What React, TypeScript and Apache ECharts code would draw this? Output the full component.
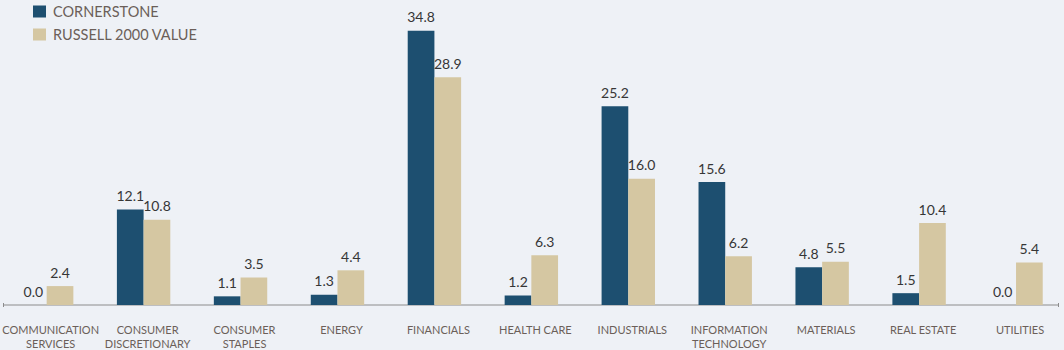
import React, { useEffect, useRef } from "react";
import * as echarts from "echarts";

const categories = [
  "COMMUNICATION\nSERVICES",
  "CONSUMER\nDISCRETIONARY",
  "CONSUMER\nSTAPLES",
  "ENERGY",
  "FINANCIALS",
  "HEALTH CARE",
  "INDUSTRIALS",
  "INFORMATION\nTECHNOLOGY",
  "MATERIALS",
  "REAL ESTATE",
  "UTILITIES",
];
const cornerstone = [0.0, 12.1, 1.1, 1.3, 34.8, 1.2, 25.2, 15.6, 4.8, 1.5, 0.0];
const russell2000Value = [2.4, 10.8, 3.5, 4.4, 28.9, 6.3, 16.0, 6.2, 5.5, 10.4, 5.4];
const seriesNames = ["CORNERSTONE", "RUSSELL 2000 VALUE"];

const BG = "#eef1f6";
const BLUE = "#1d4f70";
const BEIGE = "#d5c7a2";
const TEXT = "#6b5f59";
const FONT = "Lato, 'Noto Sans', sans-serif";

export default function App() {
  const ref = useRef<HTMLDivElement>(null);
  useEffect(() => {
    if (!ref.current) return;
    const chart = echarts.init(ref.current, null, { renderer: "svg" });
    const labelStyle = {
      show: true,
      position: "top" as const,
      distance: 7,
      color: "#363636",
      fontSize: 14,
      fontFamily: FONT,
      formatter: (p: any) => Number(p.value).toFixed(1),
    };
    chart.setOption({
      animation: false,
      backgroundColor: BG,
      textStyle: { fontFamily: FONT },
      legend: {
        orient: "vertical",
        left: 33,
        top: 4,
        padding: 0,
        itemWidth: 13,
        itemHeight: 12,
        itemGap: 8,
        icon: "rect",
        textStyle: { color: TEXT, fontSize: 14.5, fontFamily: FONT, padding: [0, 0, 0, 2] },
        data: seriesNames,
      },
      grid: {
        left: -1.8,
        right: -0.5,
        top: 29.1,
        bottom: 45,
        containLabel: false,
        outerBoundsMode: "none",
      },
      xAxis: {
        type: "category",
        data: categories,
        axisLine: { show: false },
        axisTick: { show: false },
        axisLabel: {
          interval: 0,
          color: TEXT,
          fontSize: 11,
          fontFamily: FONT,
          lineHeight: 14,
          margin: 17,
          padding: [0, 0, 0, 8],
        },
      },
      yAxis: {
        type: "value",
        min: 0,
        max: 35,
        show: false,
        splitLine: { show: false },
      },
      graphic: [
        {
          type: "line",
          shape: { x1: 3, y1: 305, x2: 1059, y2: 305 },
          style: { stroke: "#8c8c8c", lineWidth: 1 },
          silent: true,
        },
        {
          type: "line",
          shape: { x1: 3.5, y1: 303, x2: 3.5, y2: 307 },
          style: { stroke: "#8c8c8c", lineWidth: 1 },
          silent: true,
        },
        {
          type: "line",
          shape: { x1: 1058.5, y1: 303, x2: 1058.5, y2: 307 },
          style: { stroke: "#8c8c8c", lineWidth: 1 },
          silent: true,
        },
      ],
      series: [
        {
          name: seriesNames[0],
          type: "bar",
          data: cornerstone,
          barWidth: 26.7,
          barGap: "0%",
          itemStyle: { color: BLUE },
          label: labelStyle,
        },
        {
          name: seriesNames[1],
          type: "bar",
          data: russell2000Value,
          barWidth: 26.7,
          barGap: "0%",
          itemStyle: { color: BEIGE },
          label: labelStyle,
        },
      ],
    });
    return () => chart.dispose();
  }, []);
  return (
    <div
      ref={ref}
      style={{ position: "fixed", left: 0, top: 0, width: 1064, height: 350, background: BG }}
    />
  );
}
